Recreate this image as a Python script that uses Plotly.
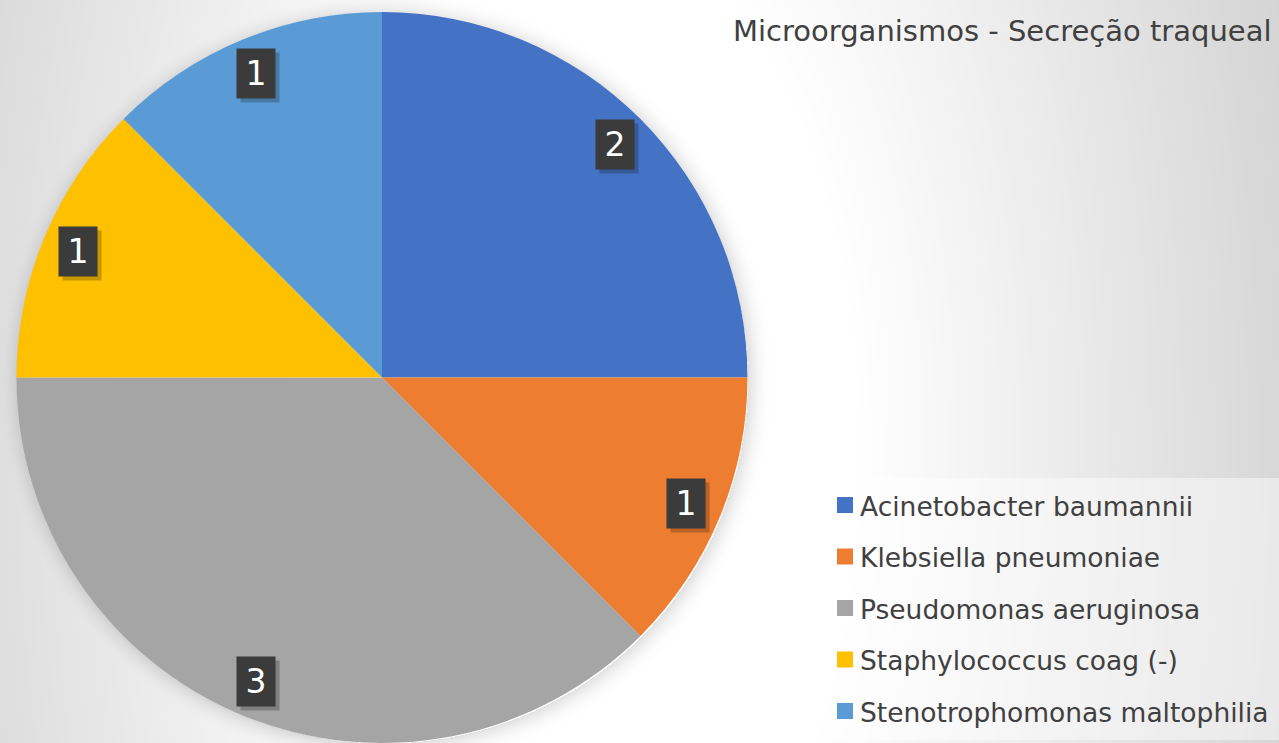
import base64
import math
import struct
import zlib

import numpy as np
import plotly.graph_objects as go

# ---------------- data ----------------
labels = [
    "Acinetobacter baumannii",
    "Klebsiella pneumoniae",
    "Pseudomonas aeruginosa",
    "Staphylococcus coag (-)",
    "Stenotrophomonas maltophilia",
]
values = [2, 1, 3, 1, 1]
colors = ["#4472C4", "#ED7D31", "#A5A5A5", "#FFC000", "#5B9BD5"]
title_text = "Microorganismos - Secreção traqueal"

# ---------------- layout constants ----------------
W, H = 1279, 743
TOP = 12
R = (H - TOP) / 2.0          # pie radius in px
CX = 382.0                   # pie centre x in px
CY = TOP + R                 # pie centre y in px
FONT = "DejaVu Sans"


def px_x(x):
    return x / W


def px_y(y):
    return 1 - y / H


# ---------------- background (radial gradient + pie shadow) ----------------
def png_gray(arr):
    h, w = arr.shape
    raw = b"".join(b"\x00" + arr[i].tobytes() for i in range(h))

    def chunk(t, d):
        return (struct.pack(">I", len(d)) + t + d
                + struct.pack(">I", zlib.crc32(t + d) & 0xFFFFFFFF))

    ihdr = struct.pack(">IIBBBBB", w, h, 8, 0, 0, 0, 0)
    return (b"\x89PNG\r\n\x1a\n" + chunk(b"IHDR", ihdr)
            + chunk(b"IDAT", zlib.compress(raw, 9)) + chunk(b"IEND", b""))


yy, xx = np.mgrid[0:H, 0:W].astype(float)
d = np.sqrt((xx - 600) ** 2 + ((yy - 450) / 2.0) ** 2)
bg = 255 - 0.093 * np.clip(d - 260, 0, None)
bg = np.clip(bg, 208, 255)
rp = np.sqrt((xx - CX - 2) ** 2 + (yy - CY - 2) ** 2)
e = rp - (R - 2)
sh = np.where((e >= 0) & (e < 24), 30 * (1 - np.clip(e, 0, 24) / 24) ** 2, 0)
bg = np.clip(bg - sh, 0, 255).astype(np.uint8)
bg_uri = "data:image/png;base64," + base64.b64encode(png_gray(bg)).decode()

# ---------------- figure ----------------
fig = go.Figure()
fig.add_trace(go.Pie(
    labels=labels,
    values=values,
    marker=dict(colors=colors, line=dict(width=0)),
    sort=False,
    direction="clockwise",
    rotation=0,
    textinfo="none",
    showlegend=False,
    domain=dict(x=[(CX - R) / W, (CX + R) / W], y=[0, 1 - TOP / H]),
))

annotations = []
shapes = []

# data labels: dark boxes at 0.9 R on each slice's mid angle
total = float(sum(values))
acc = 0.0
for v in values:
    mid = (acc + v / 2.0) / total * 2 * math.pi
    acc += v
    lx = CX + 0.9 * R * math.sin(mid)
    ly = CY - 0.9 * R * math.cos(mid)
    common = dict(x=px_x(lx), y=px_y(ly), xref="paper", yref="paper",
                  showarrow=False, width=38, height=49, borderpad=0,
                  xanchor="center", yanchor="middle", align="center",
                  valign="middle")
    annotations.append(dict(text=" ", bgcolor="rgba(0,0,0,0.22)",
                            xshift=4, yshift=-4, **common))
    annotations.append(dict(text=str(v), bgcolor="#3b3b3b",
                            font=dict(family=FONT, size=33, color="white"),
                            **common))

# title
annotations.append(dict(
    text=title_text, x=px_x(731), y=px_y(31), xref="paper", yref="paper",
    xanchor="left", yanchor="middle", showarrow=False,
    font=dict(family=FONT, size=29, color="#404040"),
))

# manual legend
shapes.append(dict(type="rect", xref="paper", yref="paper",
                   x0=px_x(823), x1=1.0, y0=px_y(740), y1=px_y(478),
                   fillcolor="rgba(255,255,255,0.45)", line=dict(width=0),
                   layer="below"))
for i, (lab, col) in enumerate(zip(labels, colors)):
    yc = 505 + i * 51.5
    shapes.append(dict(type="rect", xref="paper", yref="paper",
                       x0=px_x(837), x1=px_x(853), y0=px_y(yc + 8),
                       y1=px_y(yc - 8), fillcolor=col, line=dict(width=0)))
    annotations.append(dict(
        text=lab, x=px_x(858), y=px_y(yc + 1), xref="paper", yref="paper",
        xanchor="left", yanchor="middle", showarrow=False,
        font=dict(family=FONT, size=26.5, color="#404040"),
    ))

fig.update_layout(
    width=W, height=H,
    margin=dict(l=0, r=0, t=0, b=0),
    paper_bgcolor="white",
    plot_bgcolor="rgba(0,0,0,0)",
    images=[dict(source=bg_uri, xref="paper", yref="paper", x=0, y=1,
                 sizex=1, sizey=1, sizing="stretch", layer="below",
                 xanchor="left", yanchor="top")],
    annotations=annotations,
    shapes=shapes,
)

fig.write_html(
    "out.html",
    config={"displayModeBar": False},
    post_script="document.body.style.margin='0';"
                "document.body.style.overflow='hidden';",
)
